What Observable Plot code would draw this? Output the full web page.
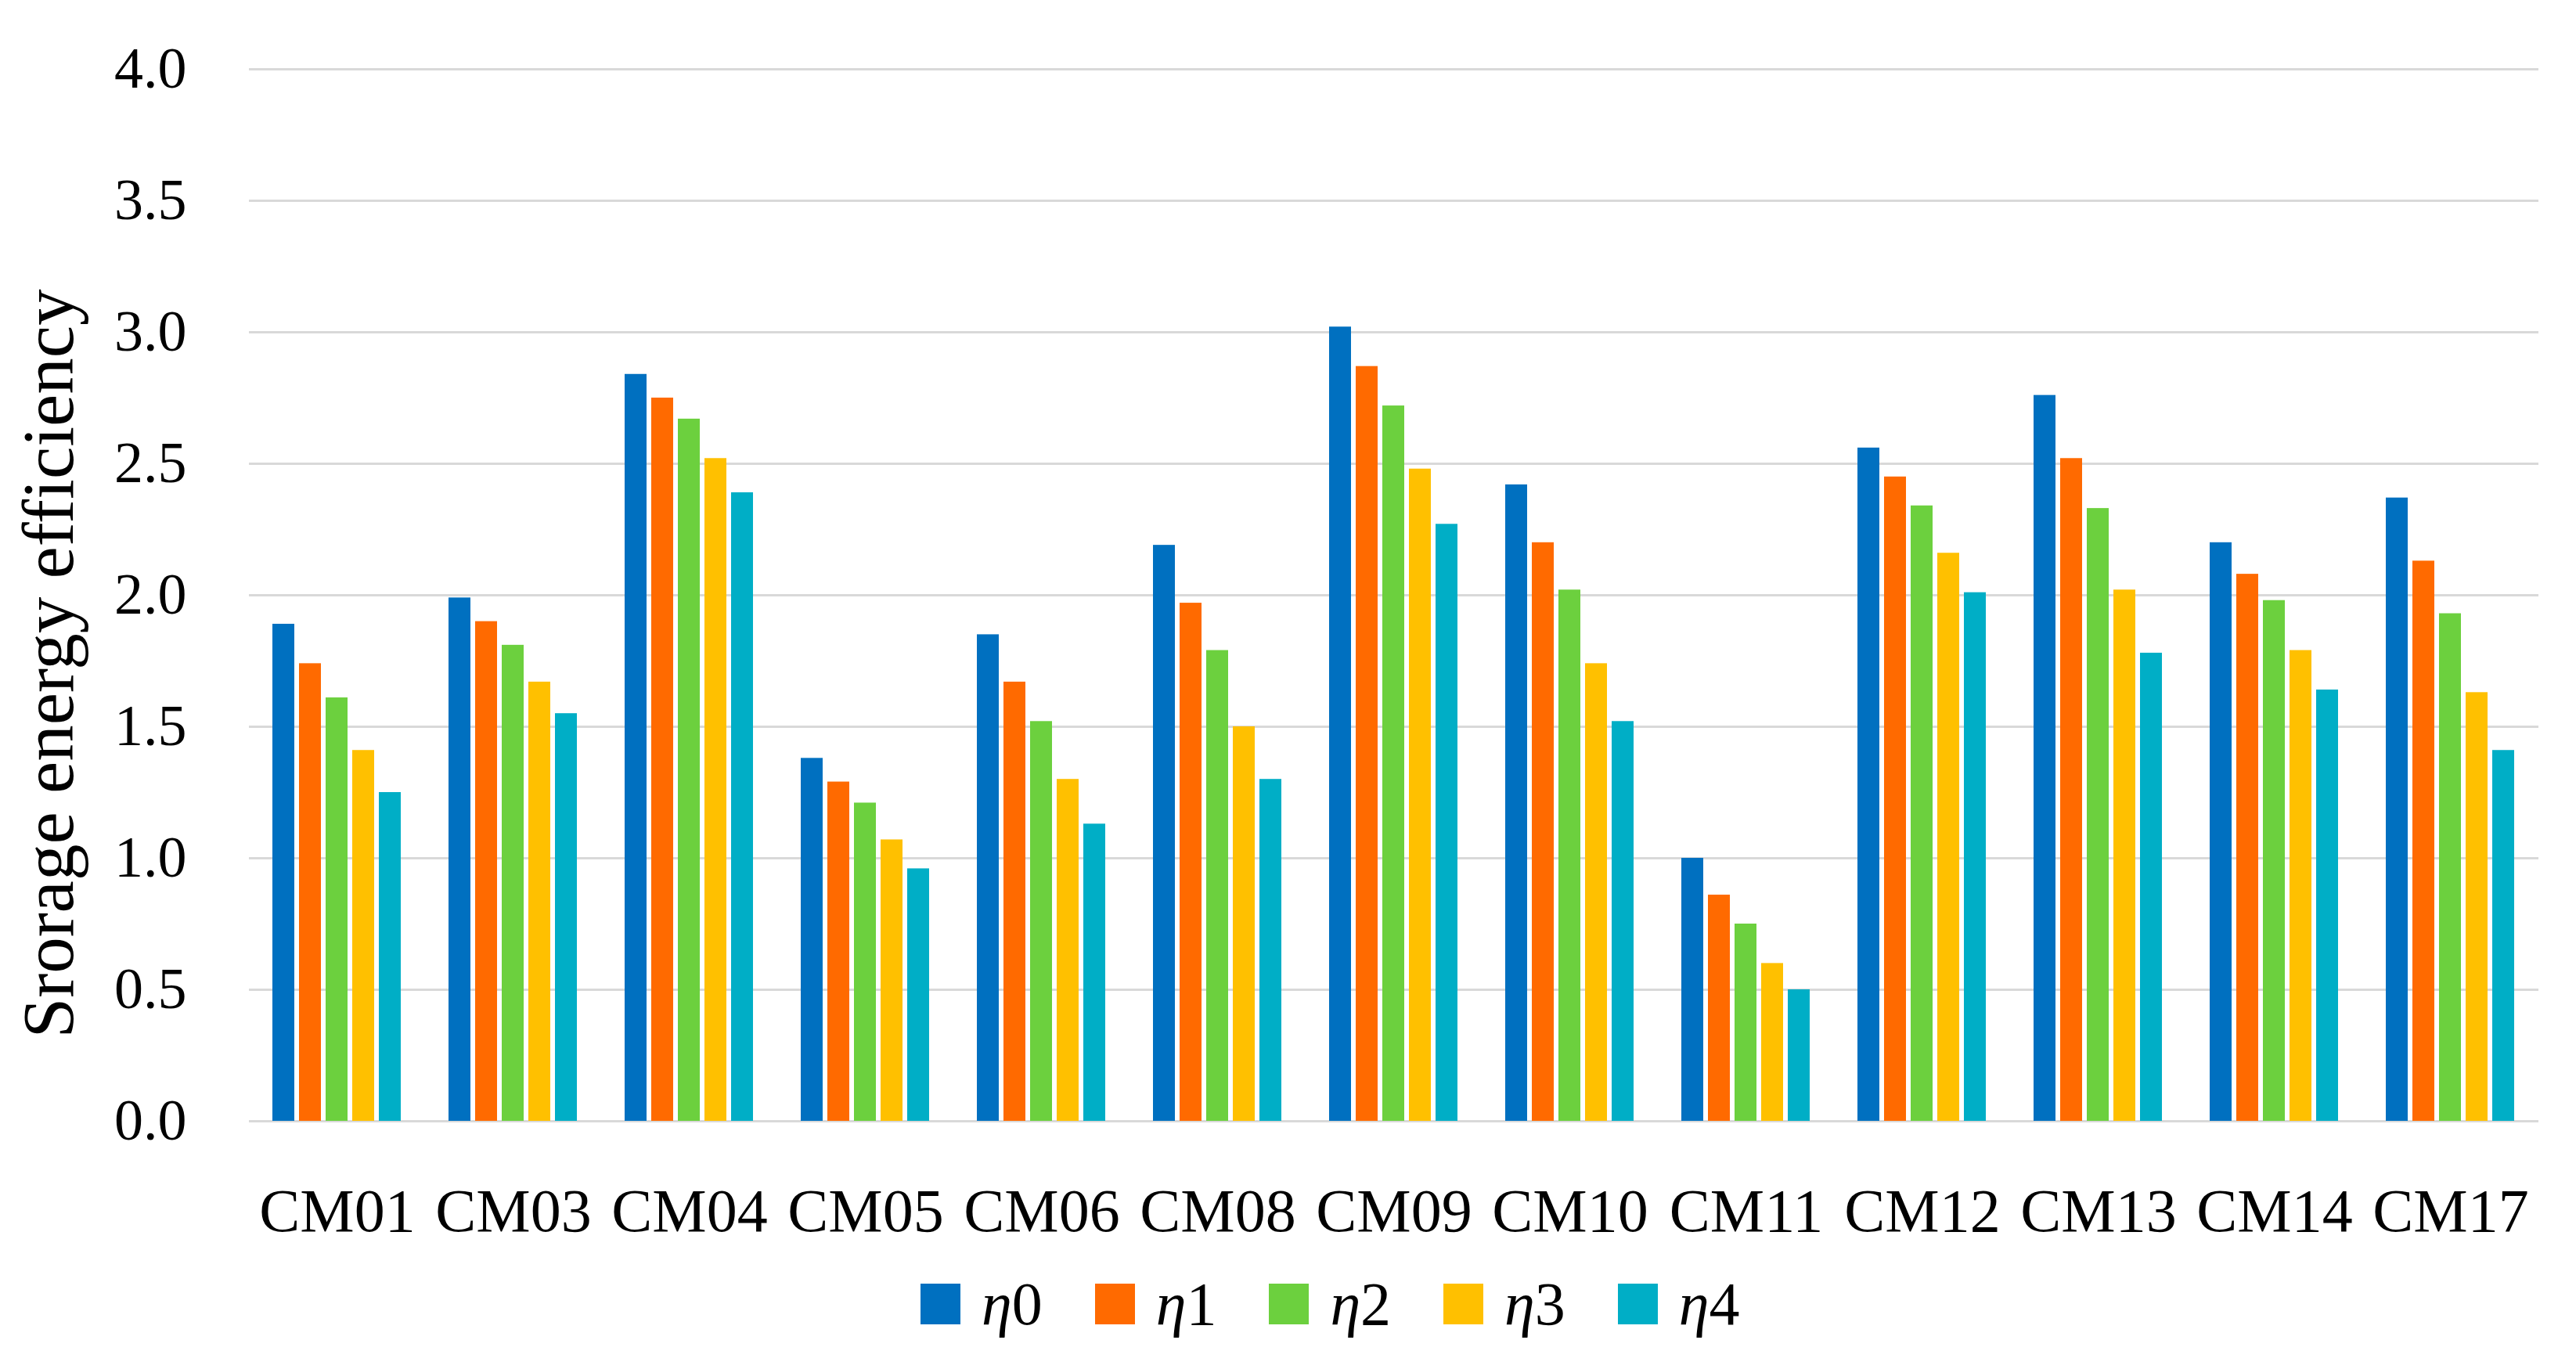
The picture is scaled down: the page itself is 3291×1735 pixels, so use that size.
<!DOCTYPE html>
<html>
<head>
<meta charset="utf-8">
<script src="https://cdn.jsdelivr.net/npm/d3@7"></script>
<script src="https://cdn.jsdelivr.net/npm/@observablehq/plot@0.6"></script>
<style>
  html, body { margin: 0; padding: 0; background: #ffffff; }
  #wrap { position: relative; width: 3291px; height: 1735px; overflow: hidden; background: #fff; }
  #ytitle {
    position: absolute; left: 61px; top: 848px;
    transform: translate(-50%, -50%) rotate(-90deg);
    white-space: nowrap; font-family: "Liberation Serif", serif; font-size: 93px; line-height: 1; color: #000;
  }
  #legend {
    display: flex; align-items: center; height: 112px; padding-left: 1176px;
    font-family: "Liberation Serif", serif; font-size: 78px; color: #000;
  }
  .item { display: flex; align-items: center; margin-right: 67px; }
  .sw { width: 51px; height: 52px; margin-right: 27px; }
  .lab { line-height: 1; }
</style>
</head>
<body>
<div id="wrap">
  <div id="chart"></div>
  <div id="legend"></div>
  <div id="ytitle">Srorage energy efficiency</div>
</div>
<script>
const categories = ["CM01","CM03","CM04","CM05","CM06","CM08","CM09","CM10","CM11","CM12","CM13","CM14","CM17"];
const seriesNames = ["η0","η1","η2","η3","η4"];
const eta0 = [1.89, 1.99, 2.84, 1.38, 1.85, 2.19, 3.02, 2.42, 1.00, 2.56, 2.76, 2.20, 2.37];
const eta1 = [1.74, 1.90, 2.75, 1.29, 1.67, 1.97, 2.87, 2.20, 0.86, 2.45, 2.52, 2.08, 2.13];
const eta2 = [1.61, 1.81, 2.67, 1.21, 1.52, 1.79, 2.72, 2.02, 0.75, 2.34, 2.33, 1.98, 1.93];
const eta3 = [1.41, 1.67, 2.52, 1.07, 1.30, 1.50, 2.48, 1.74, 0.60, 2.16, 2.02, 1.79, 1.63];
const eta4 = [1.25, 1.55, 2.39, 0.96, 1.13, 1.30, 2.27, 1.52, 0.50, 2.01, 1.78, 1.64, 1.41];
const yTicks = [0, 0.5, 1, 1.5, 2, 2.5, 3, 3.5, 4];
const colors = ["#0070C0", "#FF6A00", "#6CD03E", "#FFC000", "#00AEC6"];

const seriesValues = [eta0, eta1, eta2, eta3, eta4];
const data = [];
categories.forEach((c, i) => {
  seriesNames.forEach((s, j) => {
    data.push({category: c, series: s, value: seriesValues[j][i]});
  });
});

const chart = Plot.plot({
  width: 3291,
  height: 1610,
  marginLeft: 312,
  marginRight: 43,
  marginTop: 88,
  marginBottom: 178,
  style: {fontFamily: "Liberation Serif, serif", fontSize: "74px", color: "#000", background: "#fff"},
  fx: {domain: categories, padding: 0, label: null},
  x: {domain: seriesNames, paddingInner: 0.17, paddingOuter: 0.87, axis: null},
  y: {domain: [0, 4], label: null},
  color: {domain: seriesNames, range: colors},
  marks: [
    Plot.ruleY(yTicks, {stroke: "#d9d9d9", strokeWidth: 3}),
    Plot.barY(data, {fx: "category", x: "series", y: "value", fill: "series"}),
    Plot.axisY({ticks: yTicks, tickFormat: d3.format(".1f"), tickSize: 0, tickPadding: 80, label: null, fontSize: 74}),
    Plot.axisFx({anchor: "bottom", tickSize: 0, tickPadding: 85, label: null, fontSize: 78})
  ]
});
document.getElementById("chart").appendChild(chart);

const legend = document.getElementById("legend");
seriesNames.forEach((s, j) => {
  const item = document.createElement("div");
  item.className = "item";
  const sw = document.createElement("div");
  sw.className = "sw";
  sw.style.background = colors[j];
  const lab = document.createElement("span");
  lab.className = "lab";
  const it = document.createElement("i");
  it.textContent = s.charAt(0);
  lab.appendChild(it);
  lab.appendChild(document.createTextNode(s.slice(1)));
  item.appendChild(sw);
  item.appendChild(lab);
  legend.appendChild(item);
});
</script>
</body>
</html>
